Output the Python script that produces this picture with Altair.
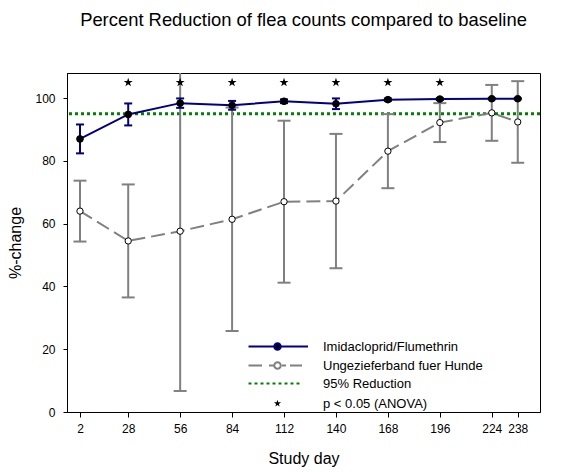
import altair as alt
import pandas as pd

# ---------------- data ----------------
days = [2, 28, 56, 84, 112, 140, 168, 196, 224, 238]
imida_mean = [87.0, 94.8, 98.4, 97.7, 99.0, 98.2, 99.5, 99.7, 99.8, 99.8]
imida_err = [4.6, 3.5, 1.5, 1.4, 0.6, 1.7, 0.4, 0.3, 0.2, 0.2]
band_mean = [64.0, 54.5, 57.6, 61.4, 67.0, 67.2, 83.1, 92.2, 95.3, 92.4]
band_err = [9.7, 18.0, 50.9, 35.6, 25.8, 21.4, 11.8, 6.2, 8.9, 13.0]
sig_days = [28, 56, 84, 112, 140, 168, 196]
star_level = 105
threshold = 95
x_ticks = days
y_ticks = [0, 20, 40, 60, 80, 100]
legend_names = ["Imidacloprid/Flumethrin", "Ungezieferband fuer Hunde",
                "95% Reduction", "p < 0.05 (ANOVA)"]

FONT = "Liberation Sans"
NAVY = "#000080"
GRAY = "#808080"
GREEN = "#008000"

imida = pd.DataFrame({"day": days, "mean": imida_mean,
                      "lo": [m - e for m, e in zip(imida_mean, imida_err)],
                      "hi": [m + e for m, e in zip(imida_mean, imida_err)]})
band = pd.DataFrame({"day": days, "mean": band_mean,
                     "lo": [m - e for m, e in zip(band_mean, band_err)],
                     "hi": [m + e for m, e in zip(band_mean, band_err)]})
stars = pd.DataFrame({"day": sig_days, "mean": [star_level] * len(sig_days)})
thr = pd.DataFrame({"mean": [threshold]})
leg = pd.DataFrame({"series": legend_names, "day": [None] * 4, "mean": [None] * 4})

# ---------------- scales / axes ----------------
xscale = alt.Scale(domain=[-5, 250], nice=False, zero=False)
yscale = alt.Scale(domain=[0, 108], nice=False, zero=False)
xaxis = alt.Axis(values=x_ticks, title="Study day", grid=False, tickSize=5,
                 labelPadding=6, labelFontSize=12, titleFontSize=16,
                 titleY=51, titleBaseline="alphabetic", labelFlush=False)
yaxis = alt.Axis(values=y_ticks, title="%-change", grid=False, tickSize=4,
                 labelPadding=8, labelFontSize=12, titleFontSize=16,
                 titleX=-52, titleY=169.5, titleAngle=-90, titleAlign="center",
                 titleBaseline="middle")


def X(f="day"):
    return alt.X(f"{f}:Q", scale=xscale, axis=xaxis)


def Y(f="mean"):
    return alt.Y(f"{f}:Q", scale=yscale, axis=yaxis)


STAR = ("M0,-1L0.2245,-0.309L0.951,-0.309L0.363,0.118L0.588,0.809L0,0.382"
        "L-0.588,0.809L-0.363,0.118L-0.951,-0.309L-0.2245,-0.309Z")
STAR_SMALL = ("M0,-0.75L0.168,-0.232L0.713,-0.232L0.272,0.089L0.441,0.607L0,0.287"
              "L-0.441,0.607L-0.272,0.089L-0.713,-0.232L-0.168,-0.232Z")
CIRC = "M-0.65,0A0.65,0.65,0,1,0,0.65,0A0.65,0.65,0,1,0,-0.65,0Z"
leg_paths = [
    "M-5.8,0H-0.65M0.65,0H6.1" + CIRC,
    "M-5.8,0H-3.1M-1.7,0H-0.8M0.9,0H1.7M2.5,0H4.9" + CIRC,
    "M-5.8,0H-5.2M-4.6,0H-4.0M-3.4,0H-2.8M-2.2,0H-1.6M-1.0,0H-0.4M0.2,0H0.8"
    "M1.4,0H2.0M2.6,0H3.2M3.8,0H4.4",
    STAR_SMALL,
]
leg_strokes = [NAVY, GRAY, GREEN, "transparent"]
leg_fills = ["black", "white", "transparent", "black"]

legend = alt.Legend(title=None, orient="none", legendX=204, legendY=267,
                    symbolSize=100, symbolStrokeWidth=2, labelFontSize=13,
                    labelFont=FONT, labelColor="black", labelOffset=39,
                    rowPadding=4, padding=0, symbolOpacity=1,
                    labelLimit=300)

# ---------------- layers ----------------
rule95 = alt.Chart(thr).mark_rule(color=GREEN, strokeWidth=3, strokeDash=[3, 3],
                                  clip=True).encode(y=Y())

band_bars = alt.Chart(band).mark_rule(color=GRAY, strokeWidth=2, clip=True).encode(
    x=X(), y=Y("lo"), y2="hi:Q")
band_caps_hi = alt.Chart(band).mark_tick(color=GRAY, thickness=2, size=13,
                                         orient="horizontal", opacity=1,
                                         clip=True).encode(x=X(), y=Y("hi"))
band_caps_lo = alt.Chart(band).mark_tick(color=GRAY, thickness=2, size=13,
                                         orient="horizontal", opacity=1,
                                         clip=True).encode(x=X(), y=Y("lo"))
band_line = alt.Chart(band).mark_line(color=GRAY, strokeWidth=2, strokeDash=[14, 6],
                                      clip=True).encode(x=X(), y=Y())
band_pts = alt.Chart(band).mark_point(shape="circle", filled=True, fill="white",
                                      stroke="black", strokeWidth=1, size=40,
                                      opacity=1, clip=True).encode(x=X(), y=Y())

imida_line = alt.Chart(imida).mark_line(color=NAVY, strokeWidth=2,
                                        clip=True).encode(x=X(), y=Y())
imida_bars = alt.Chart(imida).mark_rule(color=NAVY, strokeWidth=2, clip=True).encode(
    x=X(), y=Y("lo"), y2="hi:Q")
imida_caps_hi = alt.Chart(imida).mark_tick(color=NAVY, thickness=2, size=8,
                                           orient="horizontal", opacity=1,
                                           clip=True).encode(x=X(), y=Y("hi"))
imida_caps_lo = alt.Chart(imida).mark_tick(color=NAVY, thickness=2, size=8,
                                           orient="horizontal", opacity=1,
                                           clip=True).encode(x=X(), y=Y("lo"))
imida_pts = alt.Chart(imida).mark_point(shape="circle", filled=True, fill="black",
                                        stroke="black", strokeWidth=1, size=45,
                                        opacity=1, clip=True).encode(x=X(), y=Y())

star_pts = alt.Chart(stars).mark_point(shape=STAR, filled=True, color="black",
                                       size=90, opacity=1, clip=True).encode(x=X(), y=Y())

legend_layer = alt.Chart(leg).mark_point(opacity=1, strokeWidth=2).encode(
    x=X(), y=Y(),
    shape=alt.Shape("series:N", scale=alt.Scale(domain=legend_names, range=leg_paths),
                    legend=legend),
    stroke=alt.Stroke("series:N", scale=alt.Scale(domain=legend_names, range=leg_strokes),
                      legend=legend),
    fill=alt.Fill("series:N", scale=alt.Scale(domain=legend_names, range=leg_fills),
                  legend=legend),
)

chart = alt.layer(
    rule95, band_bars, band_caps_hi, band_caps_lo, band_line, band_pts,
    imida_line, imida_bars, imida_caps_hi, imida_caps_lo, imida_pts,
    star_pts, legend_layer,
).properties(
    width=473, height=339,
    title=alt.TitleParams("Percent Reduction of flea counts compared to baseline",
                          fontSize=18.4, font=FONT, fontWeight="normal",
                          anchor="middle", color="black", offset=44),
    autosize=alt.AutoSizeParams(type="none"),
    padding={"left": 59, "top": 65, "right": 20, "bottom": 55},
).configure_axis(
    domainColor="black", tickColor="black", labelColor="black", titleColor="black",
    labelFont=FONT, titleFont=FONT, titleFontWeight="normal", domainWidth=1,
    tickWidth=1,
).configure_view(stroke="black", strokeWidth=1)

chart.save("out.html", embed_options={"renderer": "svg", "actions": False})
